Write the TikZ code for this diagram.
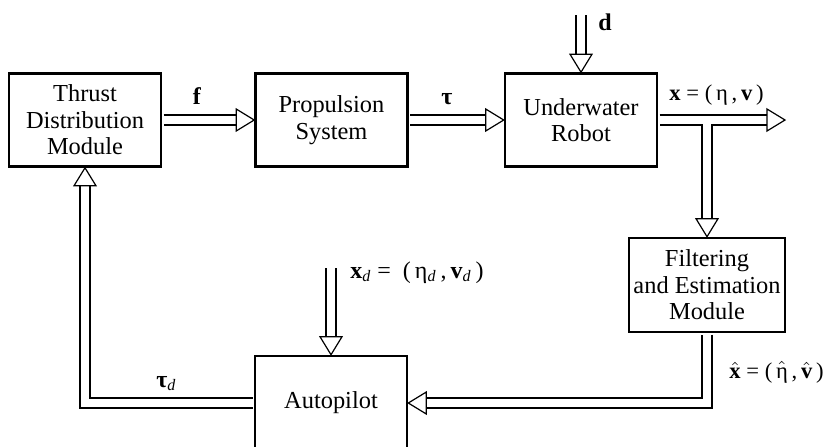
\documentclass[tikz,border=0pt]{standalone}
\usepackage{amsmath}
\usepackage{fontspec}
\setmainfont{Liberation Serif}

\begin{document}
\begin{tikzpicture}[
      x=0.5pt, y=-0.5pt,
      blk/.style={draw, line width=1.3pt, minimum width=76pt, minimum height=46.5pt,
                  align=center, inner sep=0pt, font=\fontsize{12.2}{13.3}\selectfont},
      dbl/.style={draw, double, double distance=4.4pt, line width=0.6pt},
      head/.style={draw, fill=white, line width=0.6pt, line join=miter},
      lbl/.style={font=\fontsize{12}{14}\selectfont, inner sep=0pt, anchor=base west},
      sig/.style={lbl, font=\fontsize{11.3}{14}\selectfont},
      ahead/.pic={\draw[head] (0,0) -- (-9pt,5.5pt) -- (-9pt,-5.5pt) -- cycle;}
  ]
    \useasboundingbox (0,0) rectangle (823,446);
    \clip (0,0) rectangle (823,446);

    % blocks
    \node[blk] (thrust) at (85,120) {Thrust\\Distribution\\Module};
    \node[blk] (prop) at (331.5,120) {Propulsion\\System};
    \node[blk] (robot) at (581,120) {Underwater\\Robot};
    \node[blk, minimum width=78pt, minimum height=47pt] (filt) at (707,285) {Filtering\\and Estimation\\Module};
    \node[blk, minimum height=47pt] (auto) at (331,403) {Autopilot};

    % free ends
    \coordinate (din) at (581,15);
    \coordinate (xout) at (785,120);
    \coordinate (br) at (707,124.4);
    \coordinate (xdin) at (331,268);

    % forward path
    \draw[dbl, shorten <=0.6pt, shorten >=9pt] (thrust.east) -- (prop.west);
    \pic at (prop.west) {ahead};
    \draw[dbl, shorten <=0.6pt, shorten >=9pt] (prop.east) -- (robot.west);
    \pic at (robot.west) {ahead};
    \draw[dbl, shorten <=0.6pt, shorten >=9pt] (robot.east) -- (xout);
    \pic at (xout) {ahead};
    \draw[dbl, shorten >=9pt] (din) -- (robot.north);
    \pic[rotate=-90] at (robot.north) {ahead};

    % feedback
    \draw[dbl, shorten >=9pt] (br) -- (filt.north);
    \pic[rotate=-90] at (filt.north) {ahead};
    \draw[dbl, shorten <=0.6pt, shorten >=9pt] (filt.south) |- (auto.east);
    \pic[rotate=180] at (auto.east) {ahead};
    \draw[dbl, shorten >=9pt] (xdin) -- (auto.north);
    \pic[rotate=-90] at (auto.north) {ahead};
    \draw[dbl, shorten <=0.6pt, shorten >=9pt] (auto.west) -| (thrust.south);
    \pic[rotate=90] at (thrust.south) {ahead};

    % signals
    \node[lbl, anchor=base] (flbl) at (197,104) {\textbf{f}};
    \node[lbl, anchor=base] (taulbl) at (447,104) {\textbf{τ}};
    \node[lbl, anchor=base] (dlbl) at (605,30) {\textbf{d}};
    \node[sig] (xlbl) at (669,100) {\textbf{x} = (\,η\,,\,\textbf{v}\,)};
    \node[sig] (xhlbl) at (729,378) {$\hat{\textbf{x}}$ = (\,$\hat{\text{η}}$\,,\,$\hat{\textbf{v}}$\,)};
    \node[lbl] (xdlbl) at (350,278) {\textbf{x}\textsubscript{\textit{d}} = \ (\,η\textsubscript{\textit{d}}\,,\,\textbf{v}\textsubscript{\textit{d}}\,)};
    \node[lbl] (taudlbl) at (156,387) {\textbf{τ}\textsubscript{\textit{d}}};
\end{tikzpicture}
\end{document}
